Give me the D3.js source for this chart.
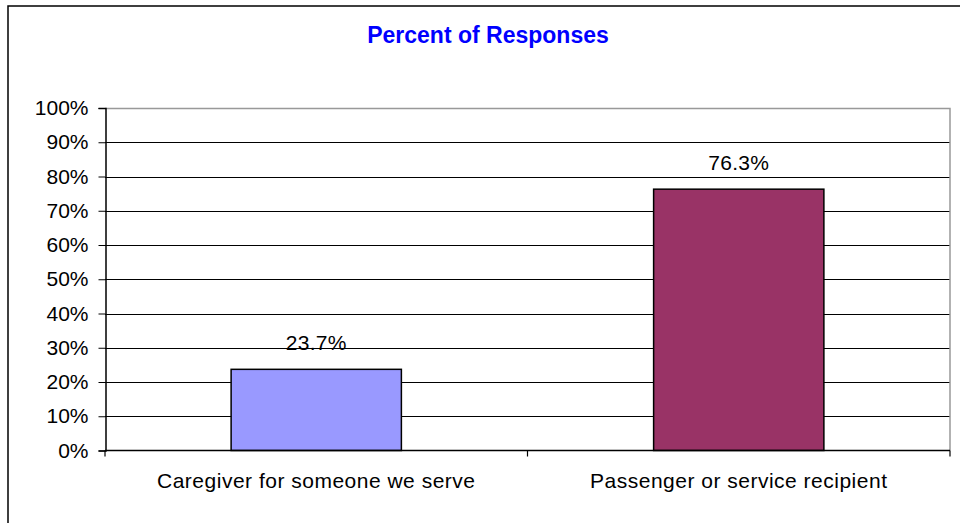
<!DOCTYPE html>
<html>
<head>
<meta charset="utf-8">
<script src="https://cdn.jsdelivr.net/npm/d3@7"></script>
<style>
  html, body { margin: 0; padding: 0; background: #fff; }
  svg { display: block; font-family: "Liberation Sans", Arial, sans-serif; }
</style>
</head>
<body>
<svg id="chart" width="960" height="523"></svg>
<script>
// Chart data
const categories = ["Caregiver for someone we serve", "Passenger or service recipient"];
const percentValues = [23.7, 76.3];
const barColors = ["#9999ff", "#993366"];
const yTickValues = [0, 10, 20, 30, 40, 50, 60, 70, 80, 90, 100];
const chartTitle = "Percent of Responses";

const svg = d3.select("#chart");
const plot = { left: 105, right: 950, top: 108, bottom: 450.5 };
const labelSize = 21;

// Outer frame (runs off the right and bottom edges)
svg.append("rect")
  .attr("x", 8).attr("y", 6)
  .attr("width", 1000).attr("height", 600)
  .attr("fill", "#fff").attr("stroke", "#000").attr("stroke-width", 1.5);

// Title
svg.append("text")
  .attr("x", 488).attr("y", 43)
  .attr("text-anchor", "middle")
  .attr("font-size", 23).attr("font-weight", "bold")
  .attr("fill", "#0000ff")
  .text(chartTitle);

const x = d3.scaleBand()
  .domain(categories)
  .range([plot.left, plot.right])
  .paddingInner(0.597)
  .paddingOuter(0.2985);

const y = d3.scaleLinear().domain([0, 100]).range([plot.bottom, plot.top]);

// Horizontal gridlines
svg.append("g")
  .selectAll("line")
  .data(yTickValues.filter(v => v > 0 && v < 100))
  .join("line")
  .attr("x1", plot.left).attr("x2", plot.right)
  .attr("y1", d => Math.round(y(d)) + 0.5).attr("y2", d => Math.round(y(d)) + 0.5)
  .attr("stroke", "#000").attr("stroke-width", 1);

// Plot area border (gray top and right)
svg.append("path")
  .attr("d", `M${plot.left},${Math.round(plot.top) + 0.5}H${plot.right}V${plot.bottom}`)
  .attr("fill", "none").attr("stroke", "#999").attr("stroke-width", 1.5);

// Bars
svg.append("g")
  .selectAll("rect")
  .data(categories)
  .join("rect")
  .attr("x", d => x(d))
  .attr("width", x.bandwidth())
  .attr("y", (d, i) => y(percentValues[i]))
  .attr("height", (d, i) => y(0) - y(percentValues[i]))
  .attr("fill", (d, i) => barColors[i])
  .attr("stroke", "#000").attr("stroke-width", 1.5);

// Value labels
svg.append("g")
  .selectAll("text")
  .data(categories)
  .join("text")
  .attr("x", d => x(d) + x.bandwidth() / 2)
  .attr("y", (d, i) => y(percentValues[i]) - 19)
  .attr("text-anchor", "middle")
  .attr("font-size", labelSize).attr("letter-spacing", 0.3).attr("fill", "#000")
  .text((d, i) => percentValues[i].toFixed(1) + "%");

// Y axis
const yAxis = d3.axisLeft(y)
  .tickValues(yTickValues)
  .tickFormat(d => d + "%")
  .tickSize(7).tickPadding(10);
const gy = svg.append("g")
  .attr("transform", `translate(${plot.left + 0.5},0)`)
  .call(yAxis);
gy.select(".domain").attr("stroke", "#000").attr("stroke-width", 1.5);
gy.selectAll(".tick line").attr("stroke", "#000");
gy.selectAll(".tick text")
  .attr("font-size", labelSize)
  .attr("font-family", "Liberation Sans, Arial, sans-serif")
  .attr("fill", "#000");

// X axis with tick marks at category boundaries
svg.append("line")
  .attr("x1", plot.left).attr("x2", plot.right)
  .attr("y1", plot.bottom).attr("y2", plot.bottom)
  .attr("stroke", "#000").attr("stroke-width", 1.5);
const boundaries = [plot.left, (plot.left + plot.right) / 2, plot.right];
svg.append("g")
  .selectAll("line")
  .data(boundaries)
  .join("line")
  .attr("x1", d => d).attr("x2", d => d)
  .attr("y1", plot.bottom).attr("y2", plot.bottom + 6)
  .attr("stroke", "#000").attr("stroke-width", 1.2);

svg.append("g")
  .selectAll("text")
  .data(categories)
  .join("text")
  .attr("x", d => x(d) + x.bandwidth() / 2)
  .attr("y", 488)
  .attr("text-anchor", "middle")
  .attr("font-size", labelSize).attr("letter-spacing", 0.5).attr("fill", "#000")
  .text(d => d);
</script>
</body>
</html>
